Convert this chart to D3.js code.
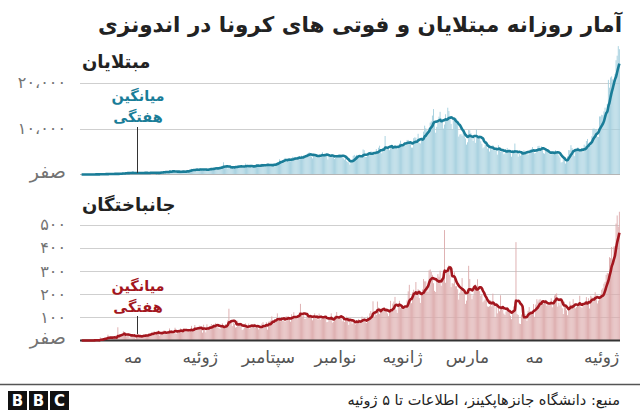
<!DOCTYPE html>
<html>
<head>
<meta charset="utf-8">
<script src="https://cdn.jsdelivr.net/npm/d3@7"></script>
<style>
body { margin: 0; background: #fff; }
svg text { font-family: "DejaVu Sans", sans-serif; }
</style>
</head>
<body>
<div id="chart-area"></div>
<script>
// daily figures from 2 March 2020, one row = one week
var firstDay = "2020-03-02";

var cases = [
	2,0,0,2,0,0,0,
	0,13,15,7,35,27,21,
	17,38,55,82,60,81,64,
	65,107,104,103,153,109,130,
	129,114,149,113,196,106,181,
	218,247,218,337,219,330,399,
	316,282,297,380,407,325,327,
	185,375,283,357,436,396,275,
	214,415,347,347,433,292,349,
	395,484,367,338,336,253,387,
	233,484,689,568,490,529,489,
	496,486,693,973,634,526,949,
	479,415,686,687,678,557,700,
	467,609,684,585,703,993,672,
	847,1043,1241,979,1111,857,1017,
	1106,1031,1226,1331,1041,862,1051,
	954,1051,1113,1178,1294,1385,1198,
	1082,1293,1385,1624,1447,1209,1607,
	1268,1853,1611,2657,1611,1671,1681,
	1282,1591,1522,1656,1462,1752,1639,
	1693,1655,1906,1882,1761,1868,1492,
	1525,1748,2381,1904,2040,1560,1519,
	1679,1922,1815,1882,2098,2277,1893,
	1687,1693,1942,2345,2098,2307,2081,
	1673,2266,1902,2074,2197,2090,2037,
	2198,2447,2306,2719,2719,3308,3004,
	2743,3075,3075,3622,3269,3128,3444,
	3046,2880,3307,3861,3737,3806,3636,
	3141,3507,3963,3635,4106,3891,4168,
	3989,4071,4465,4634,4823,4494,3874,
	3509,4002,4284,4317,4174,4007,3992,
	3622,4538,4850,4094,4369,4294,4497,
	3267,3906,4127,4301,4432,4105,3373,
	3602,3803,4267,4369,4432,4070,4070,
	3520,3222,3565,2897,2696,2618,2143,
	2973,3356,4065,4262,4025,4262,3880,
	3779,3770,3770,4173,5444,5272,3807,
	3807,4265,4798,4792,4998,4998,4360,
	4442,4192,5534,5082,5828,6267,5418,
	4617,5092,5533,8369,5803,5803,6089,
	5292,5754,6058,6120,6310,6388,5681,
	5489,6120,6725,7354,6689,6482,6848,
	6848,6347,7514,7515,6962,7021,5854,
	5854,7903,8074,8002,7203,8854,6877,
	6753,8002,7445,9321,10617,10046,9640,
	8692,10047,11278,11557,12818,14224,11287,
	9086,10365,11944,12568,13632,12191,11788,
	9994,10852,13094,11948,14518,13802,12001,
	10994,9826,11984,11749,11749,12156,10738,
	8242,8700,8776,8435,9869,8844,7828,
	6501,6998,9687,9605,8986,8144,7300,
	7924,6893,9775,8493,8232,8493,7226,
	6680,5712,5937,6465,7264,5644,5753,
	4997,5633,5445,6391,5460,5563,5563,
	4317,6383,5656,4958,4982,5344,4399,
	4579,5167,5773,5302,5205,4638,3873,
	4819,4840,6731,4916,5037,3882,4452,
	4095,4789,4791,5234,5174,4793,5087,
	4281,5083,5462,5566,5949,5346,4585,
	4673,5281,6167,6243,5547,6141,5736,
	4635,4519,5269,5191,4873,4652,4369,
	4396,4657,5021,4985,5285,4818,4585,
	4163,3722,2608,2707,3423,3701,2385,
	3158,3945,5313,5246,6374,5744,5296,
	3992,5277,5486,5862,5824,5280,5090,
	5014,4824,6486,6225,7280,7725,6594,
	6993,6294,8320,9944,10000,9869,9868,
	8189,8161,12624,12624,12990,12906,13737,
	14536,13668,15308,20574,18872,21095,21342,
	20694,20467,21807,24836,25830,27913,27233
];

var deaths = [
	0,0,0,0,0,0,0,
	0,0,1,0,0,4,1,
	0,0,0,14,6,6,10,
	10,7,9,25,13,12,12,
	8,14,11,21,10,57,12,
	24,26,19,40,28,26,18,
	25,21,12,26,27,20,23,
	8,15,24,20,22,18,15,
	22,20,28,25,21,31,26,
	29,37,30,40,25,35,34,
	43,21,30,33,35,44,42,
	27,31,28,52,36,44,39,
	31,55,28,41,43,45,52,
	39,35,54,49,44,38,50,
	38,40,63,40,52,67,53,
	47,45,64,56,50,34,68,
	47,35,70,58,60,50,71,
	57,68,68,76,70,56,52,
	50,58,74,58,58,71,65,
	87,137,78,87,62,76,71,
	56,58,85,74,75,65,45,
	48,57,74,63,62,73,50,
	62,65,66,72,57,58,58,
	48,59,54,73,79,66,57,
	79,47,81,82,86,104,87,
	82,82,83,117,86,102,83,
	100,85,100,80,105,104,102,
	92,81,113,94,122,104,105,
	92,106,122,158,114,104,118,
	93,94,118,105,97,110,104,
	87,102,117,100,99,89,116,
	89,107,102,98,107,99,79,
	80,102,98,117,77,81,104,
	108,123,94,106,95,101,83,
	88,80,89,103,99,67,96,
	82,72,86,81,69,88,82,
	93,78,80,103,90,95,79,
	75,103,95,117,127,118,169,
	103,118,110,168,142,114,130,
	138,136,130,128,140,117,105,
	121,171,134,159,168,188,133,
	119,146,171,141,144,135,147,
	144,143,173,212,240,182,161,
	208,219,195,252,190,221,183,
	162,198,220,265,255,255,233,
	210,302,306,295,283,247,214,
	209,262,286,275,301,236,271,
	269,476,249,297,311,324,282,
	230,247,245,294,234,234,221,
	176,206,218,269,207,203,158,
	172,216,322,265,201,178,195,
	233,242,227,264,232,213,193,
	199,165,172,178,180,147,145,
	148,174,147,202,159,102,154,
	117,140,126,195,146,135,116,
	110,125,139,139,130,107,92,
	132,147,176,424,114,110,73,
	71,112,110,113,112,113,84,
	128,144,127,124,123,157,102,
	155,178,168,176,178,157,166,
	159,161,175,150,153,152,167,
	182,143,175,194,200,203,146,
	163,151,175,139,114,167,147,
	130,109,142,168,155,151,178,
	152,139,144,156,163,193,145,
	141,157,149,171,187,166,182,
	138,193,189,180,189,208,195,
	160,172,190,194,219,225,245,
	253,283,291,289,359,355,403,
	350,405,407,504,539,491,555
];

var monthNames = ["مه", "ژوئیه", "سپتامبر", "نوامبر", "ژانویه", "مارس", "مه", "ژوئیه"];
var monthDates = ["2020-05-01", "2020-07-01", "2020-09-01", "2020-11-01", "2021-01-01", "2021-03-01", "2021-05-01", "2021-07-01"];

var casesTicks = [0, 10000, 20000];
var deathsTicks = [0, 100, 200, 300, 400, 500];

var title = "آمار روزانه مبتلایان و فوتی های کرونا در اندونزی";
var source = "منبع: دانشگاه جانزهاپکینز، اطلاعات تا ۵ ژوئیه";

const W = 640, H = 413;
var left = 80, right = 620;

var parseDate = d3.timeParse("%Y-%m-%d");
var start = parseDate(firstDay);

var svg = d3.select("#chart-area")
	.append("svg")
		.attr("width", W)
		.attr("height", H);

svg.append("rect").attr("width", W).attr("height", H).attr("fill", "#fff");

var x = d3.scaleTime()
	.domain([parseDate("2020-03-01"), parseDate("2021-07-05")])
	.range([left, right]);

// persian digits for tick labels
function fa(n) {
	if (n === 0) return "صفر";
	var s = d3.format(",")(n).replace(/,/g, "،");
	return s.replace(/[0-9]/g, function(c) { return "۰۱۲۳۴۵۶۷۸۹"[+c]; });
}

function rolling(values) {
	return values.map(function(v, i) {
		return d3.mean(values.slice(Math.max(0, i - 6), i + 1));
	});
}

function panel(opts) {
	var y = d3.scaleLinear()
		.domain([0, opts.ticks[opts.ticks.length - 1]])
		.range(opts.range);

	var g = svg.append("g");

	// grid
	g.selectAll(".grid")
		.data(opts.ticks.filter(function(t) { return t > 0; }))
		.enter().append("line")
			.attr("x1", left).attr("x2", right)
			.attr("y1", function(d) { return Math.round(y(d)) + 0.5; })
			.attr("y2", function(d) { return Math.round(y(d)) + 0.5; })
			.attr("stroke", "#cfcfcf")
			.attr("stroke-width", 1);

	g.selectAll(".ylab")
		.data(opts.ticks)
		.enter().append("text")
			.attr("x", 66)
			.attr("y", function(d) { return y(d); })
			.attr("dy", function(d) { return d === 0 ? "0.2em" : "0.35em"; })
			.attr("text-anchor", "end")
			.attr("font-size", function(d) { return d === 0 ? "19px" : "16px"; })
			.attr("fill", "#737373")
			.text(fa);

	var days = opts.values.map(function(v, i) {
		return { date: d3.timeDay.offset(start, i), value: v };
	});
	var avg = rolling(opts.values);

	g.selectAll(".bar")
		.data(days)
		.enter().append("rect")
			.attr("x", function(d) { return x(d.date); })
			.attr("width", 0.9)
			.attr("y", function(d) { return y(d.value); })
			.attr("height", function(d) { return y(0) - y(d.value); })
			.attr("fill", opts.barColor);

	// baseline
	g.append("line")
		.attr("x1", left).attr("x2", right)
		.attr("y1", y(0)).attr("y2", y(0))
		.attr("stroke", opts.baseColor)
		.attr("stroke-width", opts.baseWidth);

	var line = d3.line()
		.x(function(d, i) { return x(days[i].date) + 0.5; })
		.y(function(d) { return y(d); })
		.curve(d3.curveMonotoneX);

	g.append("path")
		.attr("fill", "none")
		.attr("stroke", opts.lineColor)
		.attr("stroke-width", 2.6)
		.attr("stroke-linejoin", "round")
		.attr("d", line(avg));

	g.append("text")
		.attr("x", 82)
		.attr("y", opts.labelY)
		.attr("text-anchor", "start")
		.attr("font-size", "18px")
		.attr("font-weight", "bold")
		.attr("fill", "#222")
		.text(opts.label);

	// annotation
	g.append("line")
		.attr("x1", 137.5).attr("x2", 137.5)
		.attr("y1", opts.note[2]).attr("y2", opts.note[3])
		.attr("stroke", "#333")
		.attr("stroke-width", 1);

	g.selectAll(".note")
		.data(["میانگین", "هفتگی"])
		.enter().append("text")
			.attr("x", 138)
			.attr("y", function(d, i) { return opts.note[i]; })
			.attr("text-anchor", "middle")
			.attr("font-size", "14.5px")
			.attr("font-weight", "bold")
			.attr("fill", opts.lineColor)
			.text(function(d) { return d; });
}

svg.append("text")
	.attr("x", 622)
	.attr("y", 32)
	.attr("text-anchor", "end")
	.attr("font-size", "21.5px")
	.attr("font-weight", "bold")
	.attr("fill", "#222")
	.text(title);

panel({
	values: cases,
	ticks: casesTicks,
	range: [174.5, 82.5],
	barColor: "#a3cfde",
	lineColor: "#1a7d98",
	baseColor: "#b5b5b5",
	baseWidth: 1,
	label: "مبتلایان",
	labelY: 68,
	note: [101, 122, 127, 173]
});

panel({
	values: deaths,
	ticks: deathsTicks,
	range: [340.5, 224.5],
	barColor: "#dcaaab",
	lineColor: "#a3161e",
	baseColor: "#333",
	baseWidth: 2,
	label: "جانباختگان",
	labelY: 211,
	note: [291, 312, 316, 334]
});

// month labels
svg.selectAll(".month")
	.data(monthDates)
	.enter().append("text")
		.attr("x", function(d) { return x(parseDate(d)) - 14; })
		.attr("y", 363)
		.attr("text-anchor", "middle")
		.attr("font-size", "17px")
		.attr("fill", "#555")
		.text(function(d, i) { return monthNames[i]; });

// footer
svg.append("line")
	.attr("x1", 0).attr("x2", W)
	.attr("y1", 384.5).attr("y2", 384.5)
	.attr("stroke", "#555")
	.attr("stroke-width", 1.5);

var logo = svg.append("g").attr("transform", "translate(8,391)");
["B", "B", "C"].forEach(function(c, i) {
	logo.append("rect")
		.attr("x", i * 21).attr("y", 0)
		.attr("width", 19).attr("height", 19)
		.attr("fill", "#111");
	logo.append("text")
		.attr("x", i * 21 + 9.5).attr("y", 15)
		.attr("text-anchor", "middle")
		.attr("font-size", "15px")
		.attr("font-weight", "bold")
		.attr("fill", "#fff")
		.text(c);
});

svg.append("text")
	.attr("x", 620)
	.attr("y", 405)
	.attr("text-anchor", "end")
	.attr("font-size", "14.5px")
	.attr("fill", "#222")
	.text(source);
</script>
</body>
</html>
